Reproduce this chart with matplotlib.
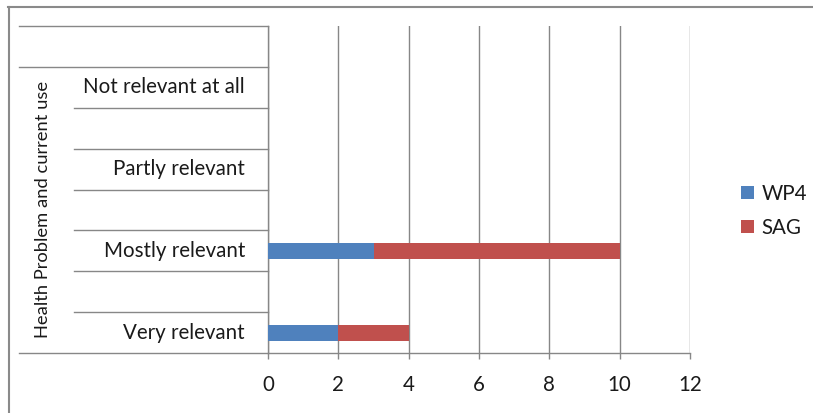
import matplotlib
matplotlib.use("Agg")
import matplotlib.pyplot as plt
from matplotlib.lines import Line2D
from matplotlib.patches import Patch
from matplotlib.transforms import blended_transform_factory

# Category rows, bottom to top (blank rows separate the answers)
categories = ["Very relevant", "", "Mostly relevant", "", "Partly relevant", "",
              "Not relevant at all", ""]
group_label = "Health Problem and current use"
wp4 = [2, 0, 3, 0, 0, 0, 0, 0]
sag = [2, 0, 7, 0, 0, 0, 0, 0]
series_names = ["WP4", "SAG"]
x_ticks = [0, 2, 4, 6, 8, 10, 12]

BLUE = "#4F81BD"
RED = "#C0504D"
GRID = "#878787"
TEXT = "#1a1a1a"
FONT = "Lato"
FS = 14.8

W, H = 813, 413
fig = plt.figure(figsize=(W / 100, H / 100), dpi=100)
plt.rcParams["font.family"] = [FONT, "DejaVu Sans"]

def fx(px):
    return px / W

def fy(py):
    return 1 - py / H

ax = fig.add_axes([fx(268), fy(353), fx(690) - fx(268), fy(26) - fy(353)])

ypos = list(range(len(categories)))
ax.barh(ypos, wp4, height=0.39, color=BLUE, linewidth=0, zorder=3)
ax.barh(ypos, sag, left=wp4, height=0.39, color=RED, linewidth=0, zorder=3)

ax.set_xlim(0, 12)
ax.set_ylim(-0.5, len(categories) - 0.5)
ax.set_xticks(x_ticks)
ax.set_xticklabels([str(t) for t in x_ticks], fontsize=FS, color=TEXT)
ax.tick_params(axis="x", length=4, width=1, color=GRID, pad=12)
ax.set_yticks([])
ax.grid(axis="x", color=GRID, linewidth=1, zorder=0)
for s in ["top", "right"]:
    ax.spines[s].set_visible(False)
for s in ["left", "bottom"]:
    ax.spines[s].set_color(GRID)
    ax.spines[s].set_linewidth(1)

# Category separators and labels to the left of the plot
tr = blended_transform_factory(fig.transFigure, ax.transData)
n = len(categories)
for k in range(n + 1):
    yb = k - 0.5
    outer = k in (0, n - 1, n)
    x0 = fx(19) if outer else fx(74)
    ax.add_line(Line2D([x0, fx(268)], [yb, yb], transform=tr, color=GRID,
                       linewidth=1, clip_on=False))
for y, name in zip(ypos, categories):
    if name:
        ax.text(fx(245), y, name, transform=tr, ha="right", va="center",
                fontsize=FS, color=TEXT)

# Rotated group label spanning the answer rows
ax.text(fx(43), (0 + n - 2) / 2, group_label, transform=tr, rotation=90,
        ha="center", va="center", fontsize=13.2, color=TEXT)

# Legend
handles = [Patch(facecolor=BLUE, edgecolor="none"),
           Patch(facecolor=RED, edgecolor="none")]
fig.legend(handles, series_names, loc="center left",
           bbox_to_anchor=(fx(731), fy(211)), frameon=False, fontsize=FS,
           handlelength=0.6, handleheight=0.6, handletextpad=0.4,
           labelspacing=0.7, borderpad=0, labelcolor=TEXT)

# Chart area border
fig.add_artist(Line2D([fx(8), 1], [fy(6.5), fy(6.5)], transform=fig.transFigure,
                      color="#8a8a8a", linewidth=1.5))
fig.add_artist(Line2D([fx(8.5), fx(8.5)], [0, fy(6.5)], transform=fig.transFigure,
                      color="#8a8a8a", linewidth=1.5))

fig.savefig("out.png", dpi=100)
